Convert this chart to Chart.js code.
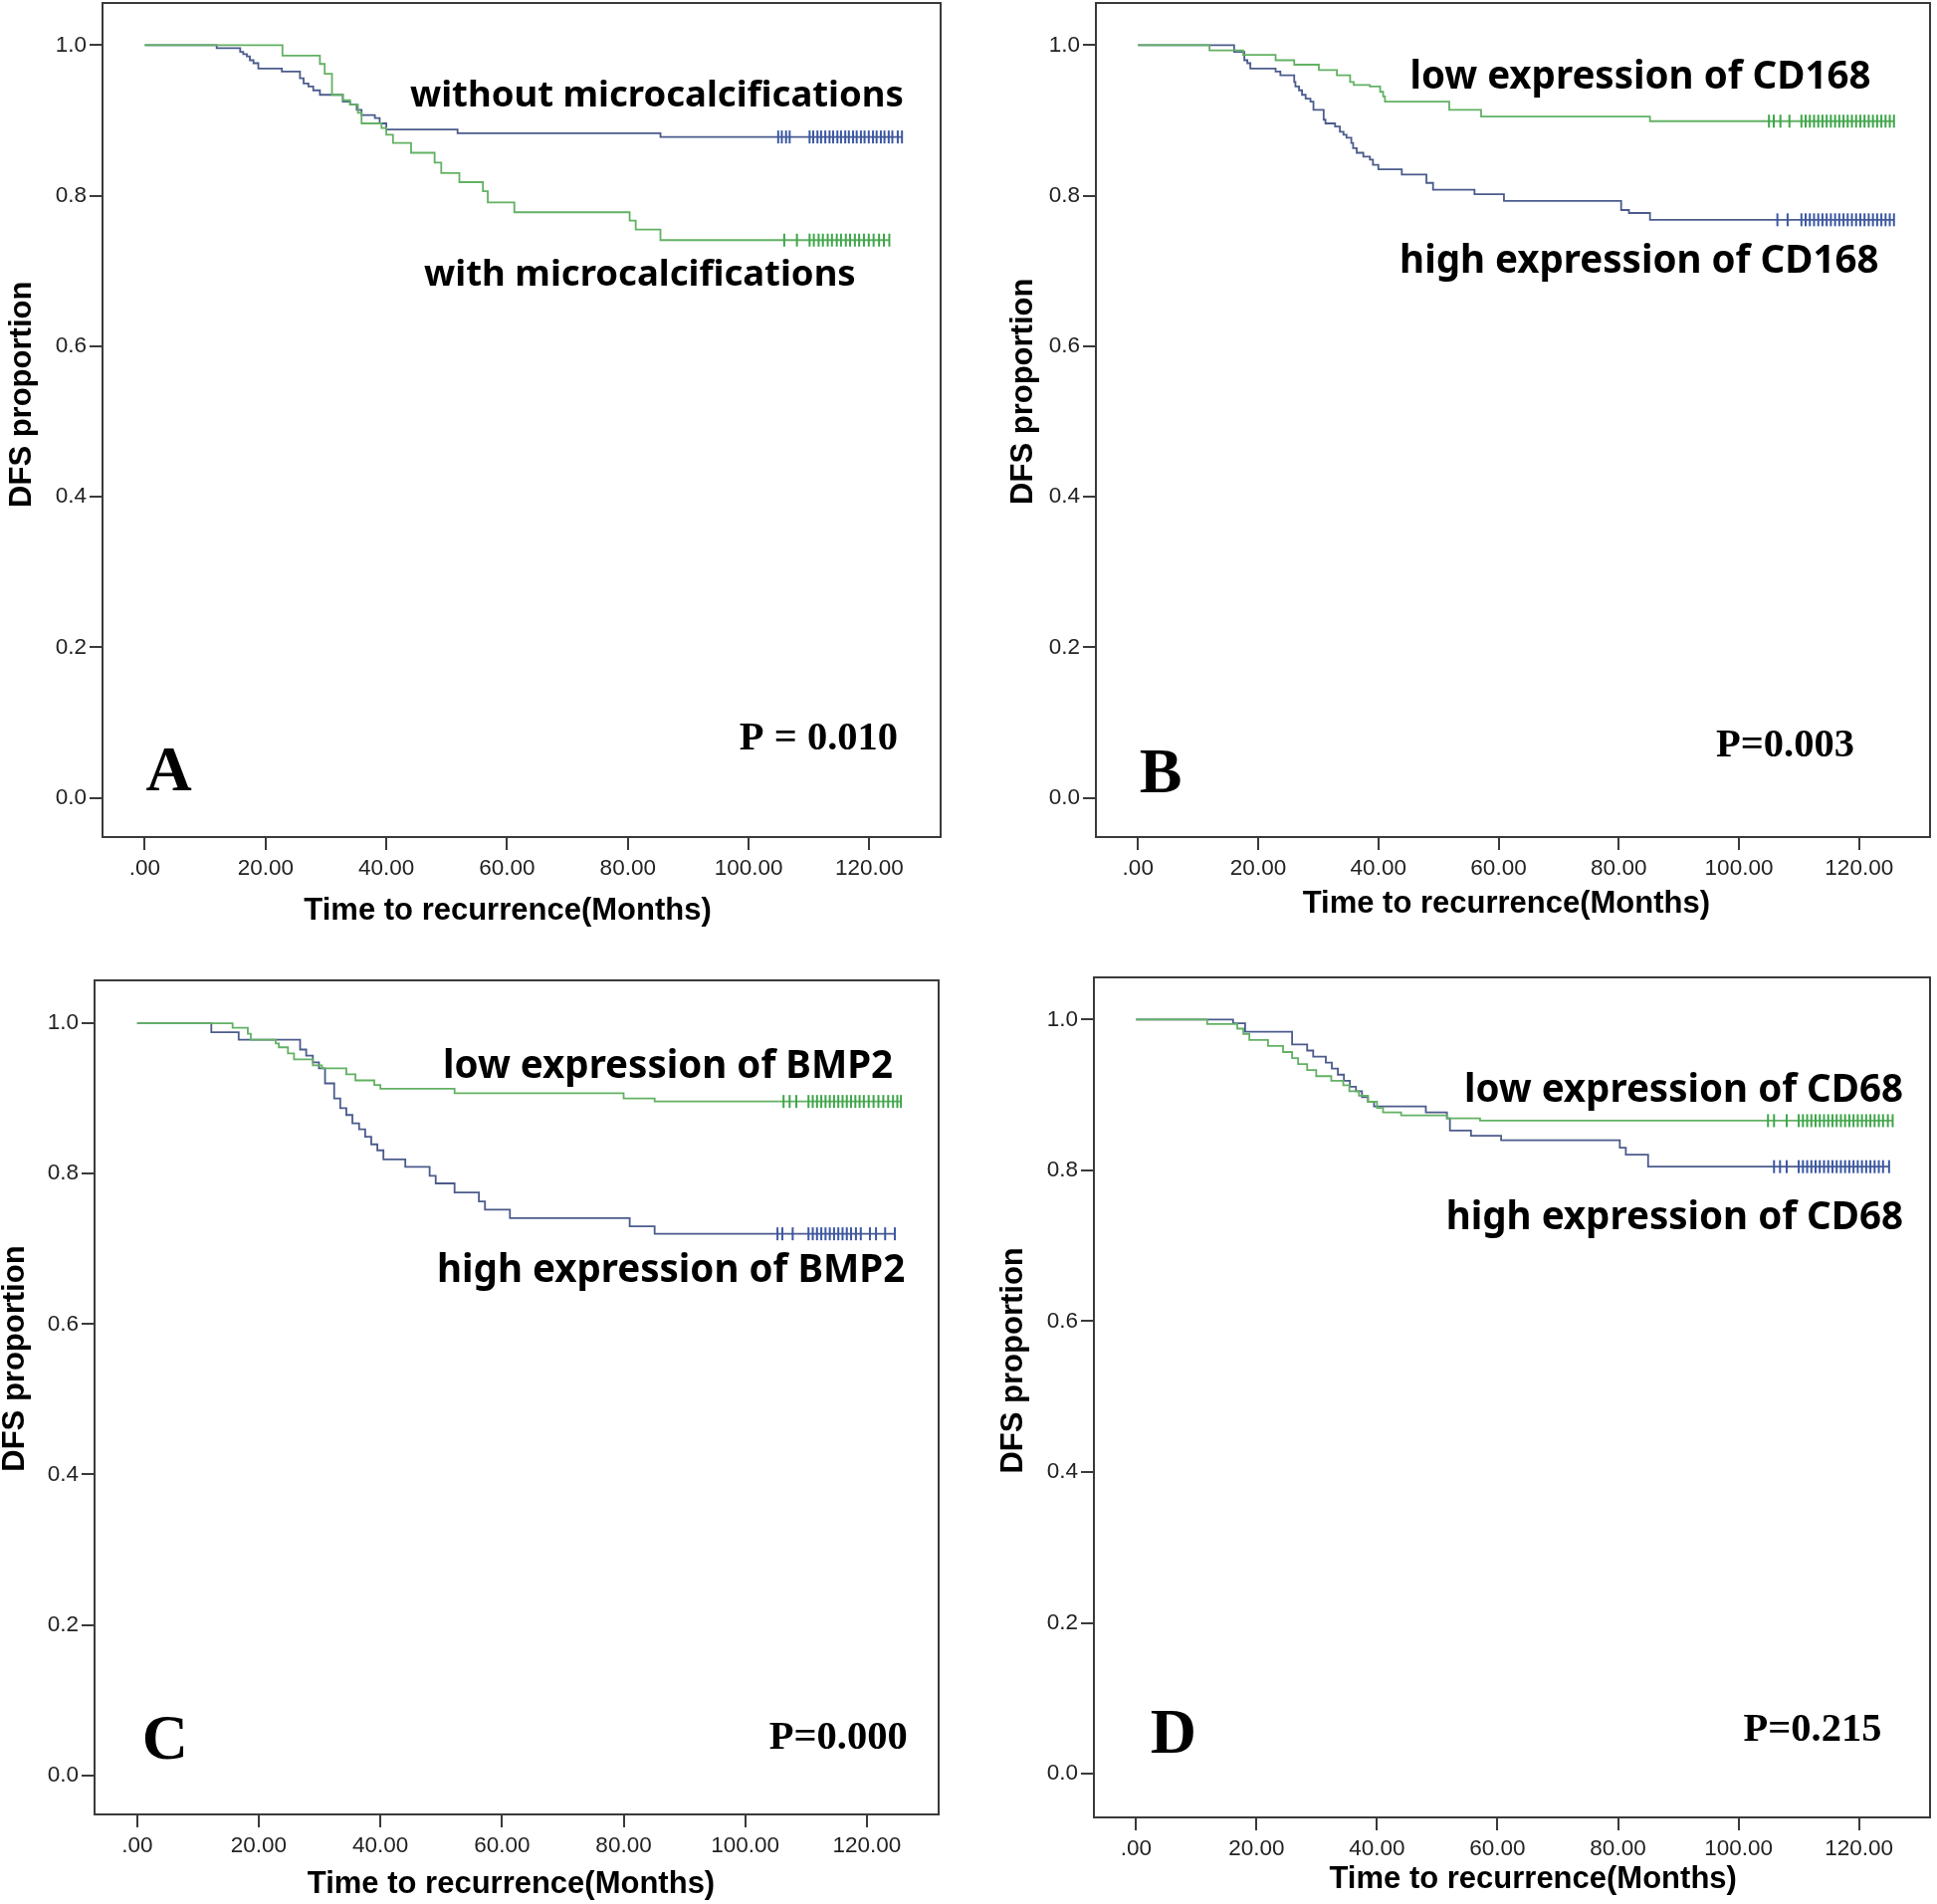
<!DOCTYPE html>
<html>
<head>
<meta charset="utf-8">
<script src="https://cdn.jsdelivr.net/npm/chart.js@4.4.1/dist/chart.umd.min.js"></script>
<style>
  html, body { margin: 0; padding: 0; background: #fff; }
  #wrap { position: relative; width: 1946px; height: 1913px; overflow: hidden; }
  canvas { position: absolute; }
</style>
</head>
<body>
<div id="wrap">
  <canvas id="panelA" width="973" height="958" style="left:0px;top:0px"></canvas>
  <canvas id="panelB" width="973" height="958" style="left:973px;top:0px"></canvas>
  <canvas id="panelC" width="973" height="955" style="left:0px;top:958px"></canvas>
  <canvas id="panelD" width="973" height="955" style="left:973px;top:958px"></canvas>
</div>
<script>
// axis ticks
const xTickValues = [0, 20, 40, 60, 80, 100, 120];
const xTickLabels = ['.00', '20.00', '40.00', '60.00', '80.00', '100.00', '120.00'];
const yTickValues = [0, 0.2, 0.4, 0.6, 0.8, 1.0];
const yTickLabels = ['0.0', '0.2', '0.4', '0.6', '0.8', '1.0'];
const xTitle = 'Time to recurrence(Months)';
const yTitle = 'DFS proportion';

// A - with microcalcifications (green)
const aWithTimes = [22.8, 29.0, 29.8, 31.0, 32.8, 34.0, 35.3, 35.9, 39.2, 40.0, 41.1, 44.1, 48.0, 49.1, 52.1, 56.0, 56.8, 61.2, 80.3, 81.3, 85.4];
const aWithSurv = [0.986, 0.975, 0.962, 0.934, 0.927, 0.921, 0.910, 0.896, 0.890, 0.881, 0.870, 0.857, 0.844, 0.830, 0.818, 0.806, 0.791, 0.778, 0.767, 0.755, 0.741];
const aWithCensor = [105.9, 108.0, 110.1, 110.8, 111.6, 112.3, 113.1, 113.8, 114.6, 115.3, 116.1, 116.8, 117.6, 118.3, 119.1, 119.9, 120.7, 121.6, 122.4, 123.3];
// A - without microcalcifications (blue)
const aWithoutTimes = [11.9, 15.8, 16.3, 16.9, 17.4, 18.0, 18.8, 22.7, 25.7, 26.3, 27.1, 27.9, 29.0, 32.8, 34.0, 35.1, 35.9, 38.1, 38.9, 40.0, 51.8, 85.4];
const aWithoutSurv = [0.996, 0.991, 0.988, 0.985, 0.980, 0.976, 0.969, 0.965, 0.956, 0.949, 0.945, 0.940, 0.934, 0.925, 0.921, 0.914, 0.907, 0.903, 0.896, 0.888, 0.883, 0.878];
const aWithoutCensor = [104.9, 105.5, 106.2, 106.8, 110.1, 110.7, 111.4, 112.0, 112.7, 113.4, 114.0, 114.7, 115.3, 116.0, 116.6, 117.3, 117.9, 118.6, 119.2, 119.9, 120.6, 121.2, 121.9, 122.5, 123.2, 123.8, 124.7, 125.4];

// B - low CD168 (green)
const bLowTimes = [11.9, 17.5, 22.9, 26.0, 30.1, 33.1, 35.3, 35.9, 38.6, 40.3, 40.8, 41.1, 51.8, 57.1, 85.2];
const bLowSurv = [0.993, 0.987, 0.980, 0.974, 0.967, 0.960, 0.951, 0.947, 0.945, 0.938, 0.932, 0.925, 0.914, 0.905, 0.899];
const bLowCensor = [105.0, 105.8, 106.9, 108.4, 110.4, 111.1, 111.8, 112.5, 113.2, 113.9, 114.6, 115.3, 116.0, 116.7, 117.4, 118.1, 118.8, 119.5, 120.2, 120.9, 121.6, 122.3, 123.0, 123.7, 124.4, 125.1, 125.8];
// B - high CD168 (blue)
const bHighTimes = [16.0, 17.7, 18.2, 18.7, 22.9, 23.7, 26.0, 26.2, 26.8, 27.3, 27.9, 28.7, 29.2, 30.9, 31.2, 32.8, 33.6, 34.2, 34.7, 35.5, 35.8, 36.4, 37.5, 38.6, 39.1, 40.0, 43.9, 48.0, 49.1, 56.0, 60.9, 80.4, 81.7, 85.2];
const bHighSurv = [0.991, 0.980, 0.976, 0.969, 0.965, 0.960, 0.951, 0.945, 0.940, 0.934, 0.929, 0.925, 0.914, 0.901, 0.896, 0.892, 0.885, 0.881, 0.877, 0.870, 0.863, 0.857, 0.852, 0.848, 0.841, 0.835, 0.828, 0.817, 0.808, 0.802, 0.793, 0.781, 0.777, 0.768];
const bHighCensor = [106.4, 108.1, 110.4, 111.1, 111.8, 112.5, 113.2, 113.9, 114.6, 115.3, 116.0, 116.7, 117.4, 118.1, 118.8, 119.5, 120.2, 120.9, 121.6, 122.3, 123.0, 123.7, 124.4, 125.1, 125.8];

// C - low BMP2 (green)
const cLowTimes = [15.7, 18.2, 18.7, 22.8, 23.3, 24.8, 25.8, 28.9, 30.4, 34.4, 35.9, 39.0, 40.0, 52.2, 80.0, 85.1];
const cLowSurv = [0.994, 0.986, 0.978, 0.973, 0.968, 0.960, 0.952, 0.944, 0.940, 0.932, 0.924, 0.918, 0.913, 0.907, 0.900, 0.896];
const cLowCensor = [106.3, 107.3, 108.4, 110.4, 111.1, 111.8, 112.5, 113.2, 113.9, 114.6, 115.3, 116.0, 116.7, 117.4, 118.1, 118.8, 119.5, 120.3, 121.1, 121.9, 122.7, 123.5, 124.3, 125.0, 125.6];
// C - high BMP2 (blue)
const cHighTimes = [12.2, 16.7, 26.8, 27.8, 28.9, 29.9, 30.9, 32.4, 33.4, 34.4, 35.4, 36.5, 37.5, 38.5, 39.5, 40.5, 44.1, 48.1, 49.1, 52.2, 56.2, 57.2, 61.3, 81.0, 85.1];
const cHighSurv = [0.988, 0.978, 0.965, 0.957, 0.948, 0.940, 0.920, 0.900, 0.887, 0.878, 0.867, 0.859, 0.849, 0.839, 0.831, 0.819, 0.809, 0.797, 0.787, 0.775, 0.763, 0.752, 0.741, 0.730, 0.720];
const cHighCensor = [105.3, 106.1, 107.8, 110.4, 111.1, 111.8, 112.5, 113.2, 113.9, 114.6, 115.3, 116.0, 116.7, 117.4, 118.2, 119.0, 120.5, 121.5, 123.0, 124.6];

// D - low CD68 (green)
const dLowTimes = [11.8, 16.8, 17.8, 18.8, 21.9, 24.4, 25.9, 26.9, 28.4, 29.9, 32.4, 34.4, 35.4, 37.0, 38.5, 40.0, 41.0, 44.0, 51.6, 57.1];
const dLowSurv = [0.994, 0.988, 0.981, 0.973, 0.965, 0.957, 0.949, 0.941, 0.933, 0.925, 0.919, 0.913, 0.905, 0.899, 0.891, 0.883, 0.877, 0.873, 0.869, 0.866];
const dLowCensor = [104.9, 105.9, 108.0, 110.0, 110.7, 111.4, 112.1, 112.8, 113.5, 114.2, 114.9, 115.6, 116.3, 117.0, 117.7, 118.4, 119.1, 119.8, 120.5, 121.2, 121.9, 122.6, 123.3, 124.0, 124.8, 125.6];
// D - high CD68 (blue)
const dHighTimes = [16.1, 18.1, 25.9, 28.4, 29.4, 31.5, 32.5, 33.5, 34.5, 35.5, 36.5, 37.5, 38.5, 39.5, 48.1, 51.6, 52.1, 55.6, 60.6, 80.3, 81.3, 85.0];
const dHighSurv = [0.995, 0.984, 0.967, 0.959, 0.951, 0.943, 0.935, 0.927, 0.919, 0.911, 0.905, 0.897, 0.891, 0.885, 0.877, 0.869, 0.853, 0.846, 0.840, 0.830, 0.821, 0.805];
const dHighCensor = [105.9, 106.9, 108.0, 110.0, 110.7, 111.4, 112.1, 112.8, 113.5, 114.2, 114.9, 115.6, 116.3, 117.0, 117.7, 118.4, 119.1, 119.8, 120.5, 121.2, 121.9, 122.6, 123.3, 124.0, 125.0];

const GREEN = '#62b163';
const BLUE = '#4b5b8c';
const GREEN_MARK = '#3ea64a';
const BLUE_MARK = '#3b58a4';
const FRAME = '#3a3a3a';

const LABEL_FONT_A = 'bold 36.5px "Noto Sans"';
const LABEL_FONT = 'bold 38.5px "Noto Sans"';
const P_FONT = 'bold 40.5px "Liberation Serif"';
const LETTER_FONT = 'bold 64px "Liberation Serif"';
const TITLE_FONT = 'bold 31px "Liberation Sans"';

// km curve points: start at 1, step at each event, run to last follow-up
function kmSteps(times, surv, censor) {
  const pts = [{ x: 0, y: 1 }];
  times.forEach((t, i) => pts.push({ x: t, y: surv[i] }));
  pts.push({ x: Math.max(...censor), y: surv[surv.length - 1] });
  return pts;
}

function censorPoints(times, surv, censor) {
  return censor.map(c => {
    let s = 1;
    times.forEach((t, i) => { if (t <= c) s = surv[i]; });
    return { x: c, y: s };
  });
}

const panels = [
  {
    id: 'panelA',
    green: [aWithTimes, aWithSurv, aWithCensor],
    blue: [aWithoutTimes, aWithoutSurv, aWithoutCensor],
    box: { yw: 103, xh: 117, top: 3, right: 28, ymin: -0.052, ymax: 1.056 },
    titles: { xAt: 60.1, xY: 915, yAt: 0.536, yX: 22 },
    notes: [
      { text: 'without microcalcifications', x: 84.8, y: 0.932, font: LABEL_FONT_A },
      { text: 'with microcalcifications', x: 82.0, y: 0.694, font: LABEL_FONT_A },
      { text: 'P = 0.010', x: 111.6, y: 0.078, font: P_FONT },
      { text: 'A', x: 4.0, y: 0.032, font: LETTER_FONT }
    ]
  },
  {
    id: 'panelB',
    green: [bLowTimes, bLowSurv, bLowCensor],
    blue: [bHighTimes, bHighSurv, bHighCensor],
    box: { yw: 128, xh: 117, top: 3, right: 7, ymin: -0.052, ymax: 1.056 },
    titles: { xAt: 61.3, xY: 908, yAt: 0.54, yX: 55 },
    notes: [
      { text: 'low expression of CD168', x: 83.6, y: 0.957, font: LABEL_FONT },
      { text: 'high expression of CD168', x: 83.4, y: 0.712, font: LABEL_FONT },
      { text: 'P=0.003', x: 107.7, y: 0.069, font: P_FONT },
      { text: 'B', x: 3.8, y: 0.029, font: LETTER_FONT }
    ]
  },
  {
    id: 'panelC',
    green: [cLowTimes, cLowSurv, cLowCensor],
    blue: [cHighTimes, cHighSurv, cHighCensor],
    box: { yw: 95, xh: 90, top: 27, right: 30, ymin: -0.052, ymax: 1.057 },
    titles: { xAt: 61.5, xY: 935, yAt: 0.554, yX: 15 },
    notes: [
      { text: 'low expression of BMP2', x: 87.3, y: 0.942, font: LABEL_FONT },
      { text: 'high expression of BMP2', x: 87.8, y: 0.670, font: LABEL_FONT },
      { text: 'P=0.000', x: 115.3, y: 0.049, font: P_FONT },
      { text: 'C', x: 4.6, y: 0.044, font: LETTER_FONT }
    ]
  },
  {
    id: 'panelD',
    green: [dLowTimes, dLowSurv, dLowCensor],
    blue: [dHighTimes, dHighSurv, dHighCensor],
    box: { yw: 126, xh: 87, top: 24, right: 7, ymin: -0.058, ymax: 1.056 },
    titles: { xAt: 65.9, xY: 930, yAt: 0.548, yX: 45 },
    notes: [
      { text: 'low expression of CD68', x: 90.9, y: 0.905, font: LABEL_FONT },
      { text: 'high expression of CD68', x: 89.4, y: 0.737, font: LABEL_FONT },
      { text: 'P=0.215', x: 112.3, y: 0.057, font: P_FONT },
      { text: 'D', x: 6.2, y: 0.049, font: LETTER_FONT }
    ]
  }
];

// closes the box, writes axis titles and the in-plot texts
const framePlugin = {
  id: 'frameNotes',
  afterDraw(chart, args, opts) {
    const { ctx, chartArea: a, scales } = chart;
    const t = opts.titles;
    ctx.save();
    ctx.strokeStyle = FRAME;
    ctx.lineWidth = 2;
    ctx.strokeRect(a.left, a.top, a.right - a.left, a.bottom - a.top);
    ctx.fillStyle = '#000';
    ctx.textAlign = 'center';
    ctx.textBaseline = 'middle';
    ctx.font = TITLE_FONT;
    ctx.fillText(xTitle, scales.x.getPixelForValue(t.xAt), t.xY);
    ctx.save();
    ctx.translate(t.yX, scales.y.getPixelForValue(t.yAt));
    ctx.rotate(-Math.PI / 2);
    ctx.fillText(yTitle, 0, 0);
    ctx.restore();
    opts.notes.forEach(n => {
      ctx.font = n.font;
      ctx.fillText(n.text, scales.x.getPixelForValue(n.x), scales.y.getPixelForValue(n.y));
    });
    ctx.restore();
  }
};

function renderPanel(p) {
  const ctx = document.getElementById(p.id).getContext('2d');
  const b = p.box;
  const axisCommon = {
    grid: { drawOnChartArea: false, drawTicks: true, tickLength: 13, color: FRAME, lineWidth: 2 },
    border: { display: true, color: FRAME, width: 2 }
  };
  const censorStyle = {
    type: 'scatter',
    pointStyle: 'line',
    pointRotation: 90,
    pointRadius: 6.5,
    pointBorderWidth: 2,
    showLine: false
  };
  return new Chart(ctx, {
    type: 'line',
    data: {
      datasets: [
        { ...censorStyle, data: censorPoints(...p.green), pointBorderColor: GREEN_MARK },
        { ...censorStyle, data: censorPoints(...p.blue), pointBorderColor: BLUE_MARK },
        {
          data: kmSteps(...p.green),
          stepped: 'before',
          borderColor: GREEN,
          borderWidth: 1.8,
          pointRadius: 0,
          fill: false
        },
        {
          data: kmSteps(...p.blue),
          stepped: 'before',
          borderColor: BLUE,
          borderWidth: 1.8,
          pointRadius: 0,
          fill: false
        }
      ]
    },
    options: {
      responsive: false,
      animation: false,
      events: [],
      layout: { autoPadding: false, padding: { top: b.top, right: b.right, left: 0, bottom: 0 } },
      plugins: {
        legend: { display: false },
        tooltip: { enabled: false },
        frameNotes: { notes: p.notes, titles: p.titles }
      },
      scales: {
        x: {
          type: 'linear',
          min: -7,
          max: 131.8,
          afterFit: s => { s.height = b.xh; s.paddingLeft = 0; s.paddingRight = 0; },
          afterBuildTicks: s => { s.ticks = xTickValues.map(v => ({ value: v })); },
          ...axisCommon,
          ticks: {
            callback: v => xTickLabels[xTickValues.indexOf(v)],
            font: { family: 'Liberation Sans', size: 22.5 },
            color: '#222',
            padding: 5,
            maxRotation: 0,
            autoSkip: false
          }
        },
        y: {
          type: 'linear',
          min: b.ymin,
          max: b.ymax,
          afterFit: s => { s.width = b.yw; s.paddingTop = 0; s.paddingBottom = 0; },
          afterBuildTicks: s => { s.ticks = yTickValues.map(v => ({ value: v })); },
          ...axisCommon,
          ticks: {
            callback: v => yTickLabels[yTickValues.indexOf(v)],
            font: { family: 'Liberation Sans', size: 22.5 },
            color: '#222',
            padding: 3
          }
        }
      }
    },
    plugins: [framePlugin]
  });
}

panels.forEach(renderPanel);
</script>
</body>
</html>
